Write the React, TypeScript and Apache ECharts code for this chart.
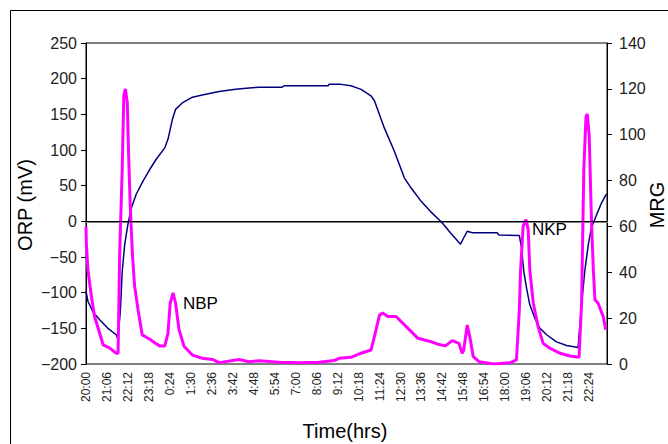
import React, { useEffect, useRef } from "react";
import * as echarts from "echarts";

// x positions are minutes elapsed since 20:00
const tickLabels = [
  "20:00", "21:06", "22:12", "23:18", "0:24", "1:30", "2:36", "3:42", "4:48",
  "5:54", "7:00", "8:06", "9:12", "10:18", "11:24", "12:30", "13:36", "14:42",
  "15:48", "16:54", "18:00", "19:06", "20:12", "21:18", "22:24",
];

const orpMinutes = [
  0, 6, 22, 43, 69, 95, 100, 108, 114, 122, 132, 143, 158, 179, 201, 221, 248,
  258, 272, 282, 303, 335, 366, 419, 471, 513, 545, 617, 624, 762, 765, 803,
  834, 866, 897, 908, 939, 971, 1002, 1023, 1055, 1084, 1121, 1147, 1179, 1189,
  1200, 1216, 1294, 1300, 1364, 1371, 1378, 1387, 1397, 1413, 1429, 1450, 1481,
  1513, 1549, 1560, 1570, 1581, 1591, 1607, 1623, 1638,
];
const orpValues = [
  -98, -112, -127, -138, -150, -159, -164, -127, -70, -32, -4, 19, 38, 56, 73,
  87, 103, 115, 143, 157, 166, 174, 177, 182, 185, 187, 188, 188, 190, 190, 192,
  192, 190, 185, 176, 169, 131, 98, 61, 47, 28, 14, -2, -16, -32, -23, -14, -16,
  -16, -19, -20, -37, -70, -94, -117, -136, -150, -159, -169, -174, -177, -117,
  -70, -33, -9, 9, 26, 38,
];

const mrgMinutes = [
  0, 1, 6, 17, 27, 43, 54, 75, 95, 101, 106, 114, 119, 124, 130, 134, 139, 146,
  153, 164, 177, 201, 216, 232, 248, 258, 265, 274, 282, 293, 309, 335, 366,
  398, 419, 482, 513, 545, 608, 671, 734, 781, 797, 834, 866, 897, 908, 924,
  934, 950, 976, 1008, 1045, 1084, 1105, 1131, 1153, 1174, 1184, 1189, 1200,
  1208, 1219, 1237, 1284, 1336, 1355, 1364, 1368, 1376, 1385, 1392, 1397, 1408,
  1423, 1439, 1460, 1492, 1523, 1552, 1560, 1567, 1574, 1578, 1584, 1591, 1597,
  1602, 1612, 1628, 1636,
];
const mrgValues = [
  60, 53, 41, 29.5, 20.7, 13.4, 8.3, 6.9, 4.7, 4.7, 48, 85, 117, 120, 114, 92,
  70, 48, 34, 23.6, 12.7, 10.8, 9.3, 7.9, 7.9, 13.4, 26.5, 31, 26.5, 14.9, 7.6,
  3.9, 2.5, 2, 0.6, 2, 1, 1.4, 0.8, 0.5, 0.8, 1.5, 2.5, 2.9, 4.7, 6.1, 12, 21.4,
  22.2, 20.7, 20.7, 16.3, 11.2, 9.8, 8.75, 7.9, 10.2, 9, 4.7, 6.1, 17, 12, 3.2,
  1, 0, 0.6, 1.75, 23.6, 41, 60, 63, 58.6, 41, 26.5, 16.3, 9, 6.9, 4.7, 3.5,
  2.9, 26.5, 85, 108, 109, 99.5, 63, 41, 28, 26.5, 20.7, 14.9,
];

const FONT = "'Liberation Sans', Arial, sans-serif";

export default function App() {
  const ref = useRef<HTMLDivElement>(null);
  useEffect(() => {
    if (!ref.current) return;
    const chart = echarts.init(ref.current, null, { renderer: "svg" });
    const orpData = orpMinutes.map((m, i) => [m, orpValues[i]]);
    const mrgData = mrgMinutes.map((m, i) => [m, mrgValues[i]]);
    chart.setOption({
      animation: false,
      backgroundColor: "#ffffff",
      textStyle: { fontFamily: FONT },
      grid: {
        left: 86,
        right: 61,
        top: 43,
        bottom: 80,
        show: true,
        borderColor: "#000",
        borderWidth: 1,
      },
      xAxis: {
        type: "value",
        min: 0,
        max: 1640,
        interval: 66,
        splitLine: { show: false },
        axisLine: { lineStyle: { color: "#808080", width: 2 } },
        axisTick: { show: false },
        axisLabel: {
          rotate: 90,
          margin: 8,
          fontSize: 12,
          color: "#222",
          fontFamily: FONT,
          showMaxLabel: false,
          formatter: (v: number) => {
            if (Math.round(v) % 66 !== 0) return "";
            const idx = Math.round(v / 66);
            return tickLabels[idx] ?? "";
          },
        },
      },
      yAxis: [
        {
          type: "value",
          min: -200,
          max: 250,
          interval: 50,
          position: "left",
          splitLine: { show: false },
          axisLine: { show: true, lineStyle: { color: "#000", width: 1 } },
          axisTick: { show: true, length: 5, lineStyle: { color: "#000" } },
          axisLabel: {
            fontSize: 16,
            color: "#222",
            margin: 9,
            fontFamily: FONT,
            formatter: (v: number) => (v < 0 ? "\u2212" + Math.abs(v) : String(v)),
          },
        },
        {
          type: "value",
          min: 0,
          max: 140,
          interval: 20,
          position: "right",
          splitLine: { show: false },
          axisLine: { show: true, lineStyle: { color: "#000", width: 1 } },
          axisTick: { show: true, length: 5, lineStyle: { color: "#000" } },
          axisLabel: { fontSize: 16, color: "#222", margin: 12, fontFamily: FONT },
        },
      ],
      series: [
        {
          name: "ORP",
          type: "line",
          yAxisIndex: 0,
          data: orpData,
          symbol: "none",
          lineStyle: { color: "#000080", width: 1.5 },
          markLine: {
            silent: true,
            symbol: "none",
            label: { show: false },
            lineStyle: { color: "#000", width: 1, type: "solid" },
            data: [{ yAxis: 0 }],
          },
          z: 3,
        },
        {
          name: "MRG",
          type: "line",
          yAxisIndex: 1,
          data: mrgData,
          symbol: "none",
          lineStyle: { color: "#ff00ff", width: 3 },
          z: 4,
        },
      ],
      graphic: [
        {
          type: "rect",
          shape: { x: 10.5, y: 10.5, width: 700, height: 500 },
          style: { fill: "none", stroke: "#000", lineWidth: 1 },
          silent: true,
        },
        {
          type: "text",
          x: 25,
          y: 205,
          rotation: Math.PI / 2,
          style: {
            text: "ORP (mV)",
            font: `20px ${FONT}`,
            fill: "#000",
            align: "center",
            verticalAlign: "middle",
          },
        },
        {
          type: "text",
          x: 657,
          y: 205,
          rotation: Math.PI / 2,
          style: {
            text: "MRG",
            font: `20px ${FONT}`,
            fill: "#000",
            align: "center",
            verticalAlign: "middle",
          },
        },
        {
          type: "text",
          x: 345,
          y: 431,
          style: {
            text: "Time(hrs)",
            font: `20px ${FONT}`,
            fill: "#000",
            align: "center",
            verticalAlign: "middle",
          },
        },
        {
          type: "text",
          x: 183,
          y: 303,
          style: {
            text: "NBP",
            font: `17px ${FONT}`,
            fill: "#000",
            align: "left",
            verticalAlign: "middle",
          },
        },
        {
          type: "text",
          x: 532,
          y: 229,
          style: {
            text: "NKP",
            font: `17px ${FONT}`,
            fill: "#000",
            align: "left",
            verticalAlign: "middle",
          },
        },
      ],
    });
    return () => chart.dispose();
  }, []);
  return (
    <div
      ref={ref}
      style={{ position: "fixed", left: 0, top: 0, width: 668, height: 444 }}
    />
  );
}
